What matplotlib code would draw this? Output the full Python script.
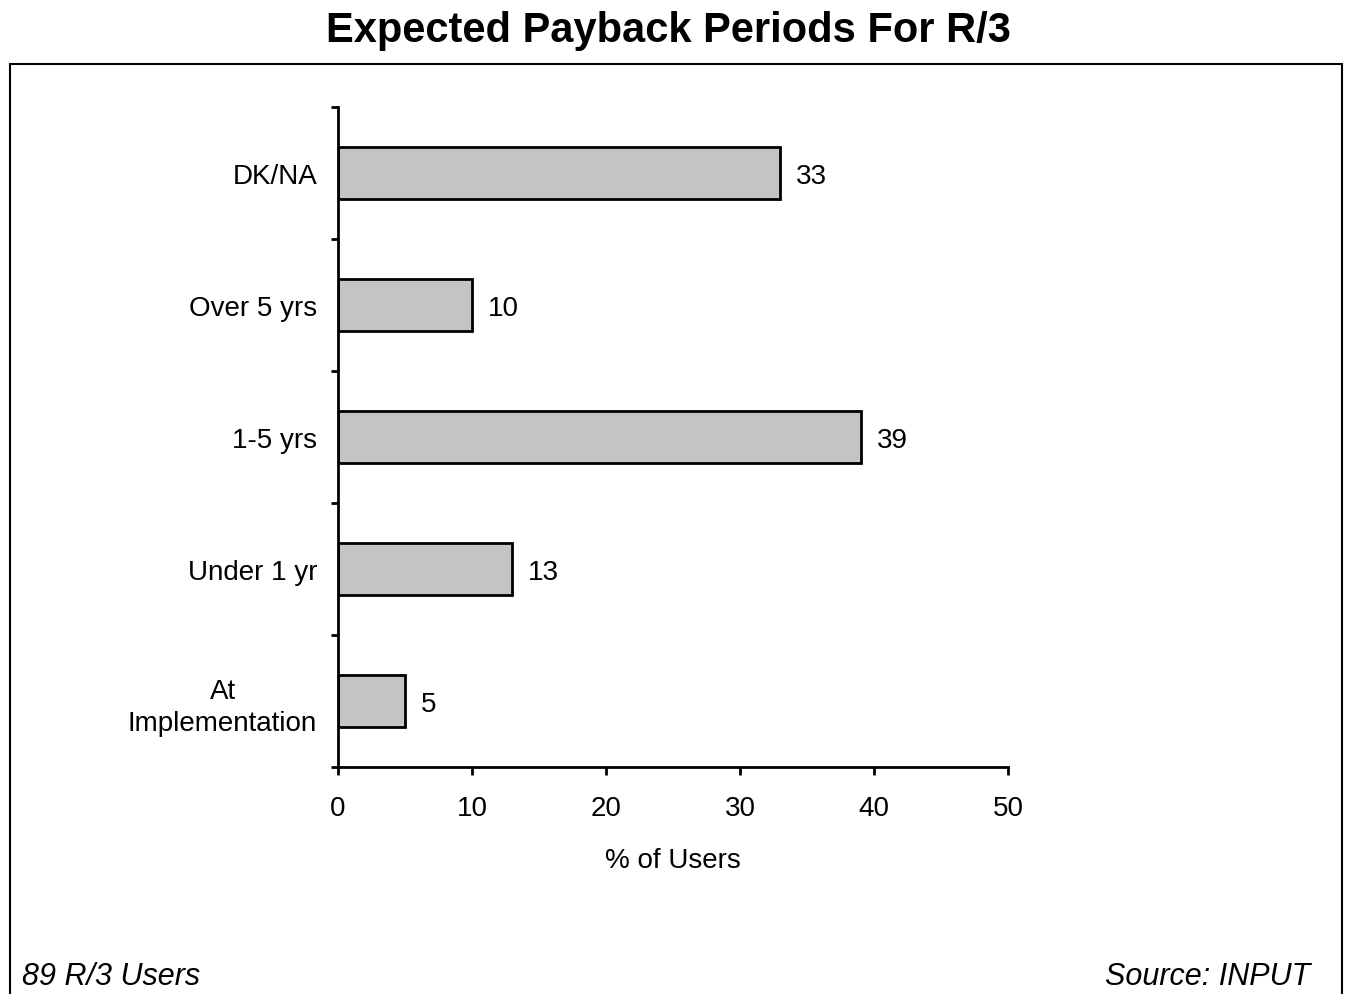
import matplotlib.pyplot as plt
from matplotlib.patches import Rectangle

categories = ['At\nImplementation', 'Under 1 yr', '1-5 yrs', 'Over 5 yrs', 'DK/NA']
values = [5, 13, 39, 10, 33]
xticks = [0, 10, 20, 30, 40, 50]

plt.rcParams['font.family'] = ['Liberation Sans', 'DejaVu Sans']

fig = plt.figure(figsize=(13.5, 9.95), dpi=100)
ax = fig.add_axes([0.2504, 0.2281, 0.4963, 0.6633])

pos = list(range(len(categories)))
ax.barh(pos, values, height=0.4, color='#c4c4c4', edgecolor='black', linewidth=2)
for p, v in zip(pos, values):
    ax.text(v + 1.2, p, str(v), va='center_baseline', ha='left', fontsize=20)

ax.set_xlim(0, 50)
ax.set_ylim(-0.5, len(categories) - 0.5)
ax.set_xticks(xticks)
ax.set_xticklabels([str(t) for t in xticks], fontsize=20)
ax.set_yticks(pos)
ax.set_yticklabels(categories, fontsize=20, multialignment='center',
                   linespacing=1.3)
ax.set_yticks([i - 0.5 for i in range(len(categories) + 1)], minor=True)
ax.tick_params(axis='y', which='major', length=0, pad=15)
ax.tick_params(axis='y', which='minor', length=5, width=2, direction='out')
ax.tick_params(axis='x', length=6, width=2, direction='out', pad=14)
ax.set_xlabel('% of Users', fontsize=20, labelpad=19)

for s in ['top', 'right']:
    ax.spines[s].set_visible(False)
for s in ['left', 'bottom']:
    ax.spines[s].set_linewidth(2)

fig.text(0.495, 0.969, 'Expected Payback Periods For R/3', ha='center', va='center',
         fontsize=30, fontweight='bold')
fig.patches.append(Rectangle((10 / 1350, -0.05), 1332 / 1350, 0.05 + 930 / 995,
                             transform=fig.transFigure, fill=False,
                             edgecolor='black', linewidth=1.5))
fig.text(22 / 1350, 18 / 995, '89 R/3 Users', ha='left', va='center',
         fontsize=22, style='italic')
fig.text(1310 / 1350, 18 / 995, 'Source: INPUT', ha='right', va='center',
         fontsize=22, style='italic')

fig.savefig('out.png', dpi=100)
